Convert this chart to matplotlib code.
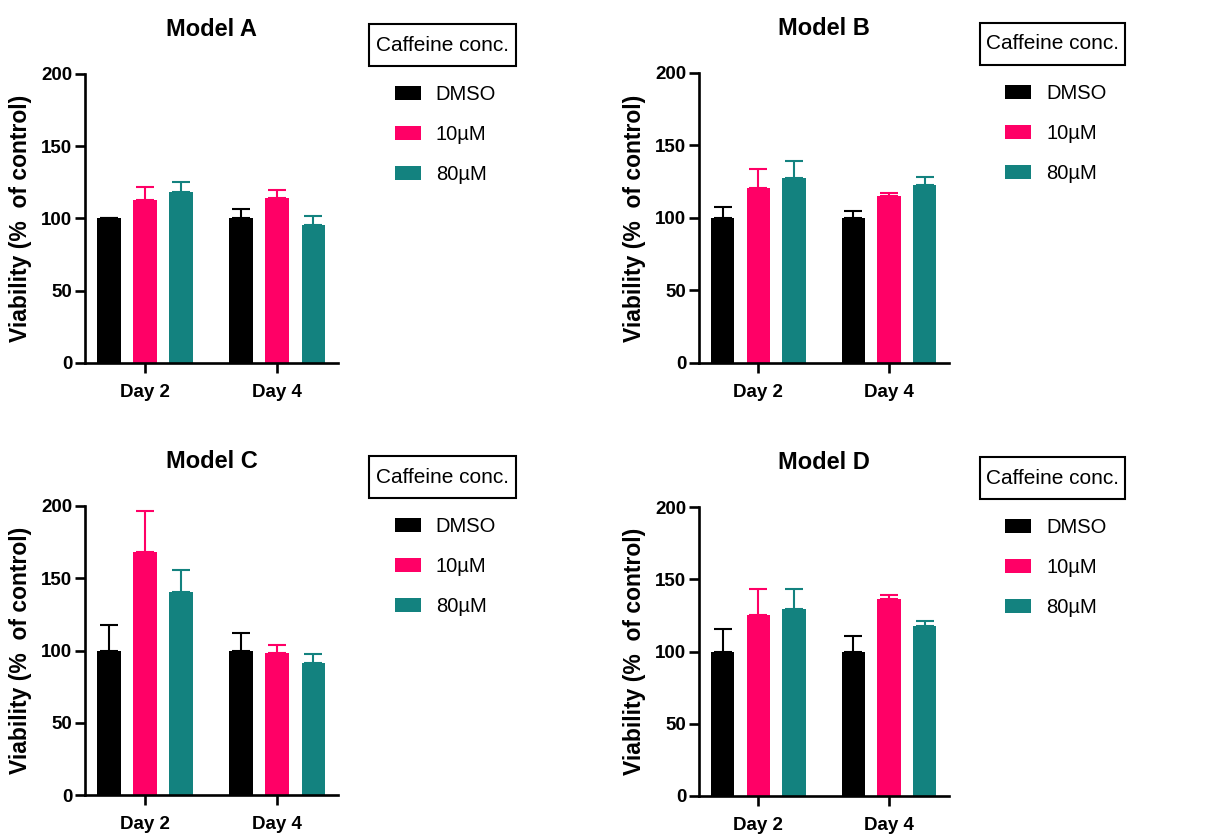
import matplotlib
matplotlib.use("Agg")
import matplotlib.pyplot as plt
from matplotlib.patches import Rectangle
import numpy as np

plt.rcParams['font.family'] = ['Liberation Sans', 'DejaVu Sans']

# ---- data ----
days = ["Day 2", "Day 4"]
treatments = ["DMSO", "10µM", "80µM"]
colors = ["#000000", "#FF0066", "#13827F"]
models = ["Model A", "Model B", "Model C", "Model D"]

# mean viability (% of control), rows = treatment, cols = day
model_a_mean = [[100, 100], [113, 114], [118.5, 95.5]]
model_a_err = [[0.6, 6.5], [9, 5.5], [7, 6.5]]
model_b_mean = [[100, 100], [121, 115], [127.5, 123]]
model_b_err = [[7.5, 4.5], [13, 2.5], [11.5, 5]]
model_c_mean = [[100, 100], [168, 98], [140.5, 91.5]]
model_c_err = [[17.5, 12], [28.5, 6], [15, 5.8]]
model_d_mean = [[100, 100], [125.5, 136.5], [129.5, 117.5]]
model_d_err = [[15.5, 10.5], [18, 2.3], [13.7, 3.3]]

means = [model_a_mean, model_b_mean, model_c_mean, model_d_mean]
errs = [model_a_err, model_b_err, model_c_err, model_d_err]

yticks = [0, 50, 100, 150, 200]
ylabel = "Viability (%  of control)"
legend_title = "Caffeine conc."

W, H = 1208, 834
fig = plt.figure(figsize=(W / 100, H / 100), dpi=100)

# axes boxes in pixels: left, top, right, bottom
boxes = [(85, 74, 338, 363), (699, 73, 949, 363),
         (85, 506, 338, 795), (699, 507, 949, 796)]

bar_w = 0.178
offset = 0.273
x = np.arange(len(days))

for k, (l, t, r, b) in enumerate(boxes):
    ax = fig.add_axes([l / W, 1 - b / H, (r - l) / W, (b - t) / H])
    for i, name in enumerate(treatments):
        pos = x + (i - 1) * offset
        m = means[k][i]
        e = errs[k][i]
        ax.bar(pos, m, width=bar_w, color=colors[i], label=name, zorder=2)
        ax.errorbar(pos, m, yerr=[[0] * len(m), e], fmt='none',
                    ecolor=colors[i], elinewidth=1.5, capsize=6.5,
                    capthick=1.5, zorder=1)
    ax.set_xlim(-0.455, 1.46)
    ax.set_ylim(0, 200)
    ax.set_yticks(yticks)
    ax.set_xticks(x)
    ax.set_xticklabels(days)
    for s in ["top", "right"]:
        ax.spines[s].set_visible(False)
    for s in ["left", "bottom"]:
        ax.spines[s].set_linewidth(1.9)
    ax.tick_params(axis='both', width=1.9, length=7.5, labelsize=13.5)
    ax.tick_params(axis='y', pad=1.5)
    ax.tick_params(axis='x', pad=7.5)
    for lab in ax.get_xticklabels() + ax.get_yticklabels():
        lab.set_fontweight('bold')
    ax.set_title(models[k], fontsize=17, fontweight='bold', pad=27)
    ax.set_ylabel(ylabel, fontsize=16.5, fontweight='bold')
    ax.yaxis.set_label_coords(-0.21, 0.5)

    # legend title box
    ax.add_patch(Rectangle((1.1225, 1.0277), 0.581, 0.1453,
                           transform=ax.transAxes, fill=False,
                           linewidth=1.5, edgecolor='black', clip_on=False))
    ax.text(1.413, 1.100, legend_title, transform=ax.transAxes,
            ha='center', va='center', fontsize=15)
    ax.legend(loc='upper left', bbox_to_anchor=(1.225, 0.962),
              frameon=False, fontsize=14.5, handlelength=1.29,
              handleheight=0.745, handletextpad=0.74, labelspacing=1.04,
              borderpad=0, borderaxespad=0)

fig.savefig("out.png", dpi=100)
